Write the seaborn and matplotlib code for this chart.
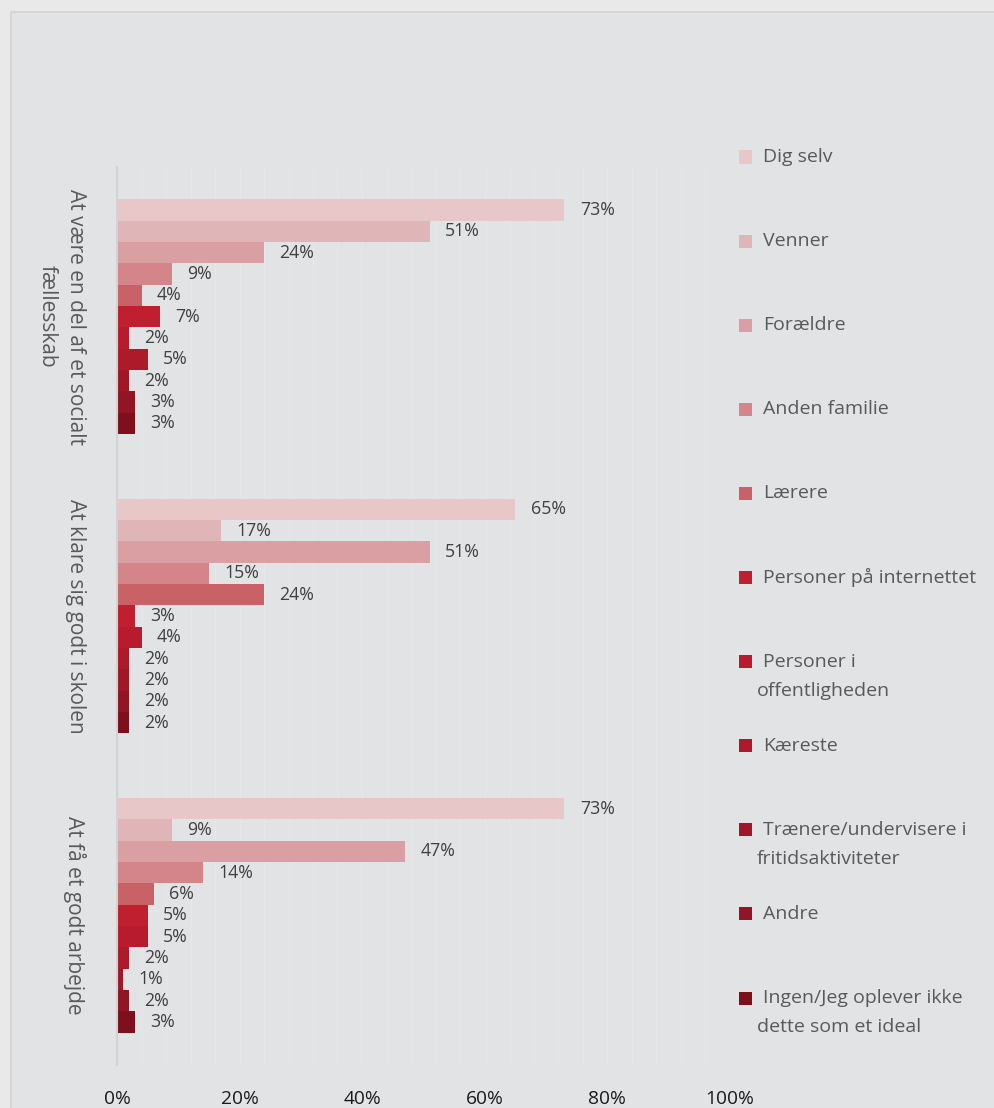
import numpy as np
import pandas as pd
import matplotlib
matplotlib.use("Agg")
import matplotlib.pyplot as plt
from matplotlib.patches import Rectangle
import seaborn as sns

# ---- data -----------------------------------------------------------------
groups = [
    "At være en del af et socialt\nfællesskab",
    "At klare sig godt i skolen",
    "At få et godt arbejde",
]
sources = [
    "Dig selv",
    "Venner",
    "Forældre",
    "Anden familie",
    "Lærere",
    "Personer på internettet",
    "Personer i offentligheden",
    "Kæreste",
    "Trænere/undervisere i fritidsaktiviteter",
    "Andre",
    "Ingen/Jeg oplever ikke dette som et ideal",
]
# legend text, split over lines as laid out in the key
legend_lines = [
    ["Dig selv"],
    ["Venner"],
    ["Forældre"],
    ["Anden familie"],
    ["Lærere"],
    ["Personer på internettet"],
    ["Personer i", "offentligheden"],
    ["Kæreste"],
    ["Trænere/undervisere i", "fritidsaktiviteter"],
    ["Andre"],
    ["Ingen/Jeg oplever ikke", "dette som et ideal"],
]
social = [73, 51, 24, 9, 4, 7, 2, 5, 2, 3, 3]
school = [65, 17, 51, 15, 24, 3, 4, 2, 2, 2, 2]
work = [73, 9, 47, 14, 6, 5, 5, 2, 1, 2, 3]
x_ticks = [0, 20, 40, 60, 80, 100]

palette = [
    "#e8c7c9", "#e0b5b7", "#d99fa2", "#d3858a", "#c86266",
    "#c01f30", "#b81b2d", "#ad1a2a", "#a01828", "#921526", "#7e0f1c",
]

df = pd.DataFrame({
    "group": np.repeat(groups, len(sources)),
    "source": sources * len(groups),
    "value": social + school + work,
})

# ---- style ----------------------------------------------------------------
sns.set_style("white")
plt.rcParams["font.family"] = ["Open Sans", "DejaVu Sans"]

W, H = 995, 1108
fig = plt.figure(figsize=(W / 100, H / 100), dpi=100, facecolor="#e9e9e9")


def fx(x):
    return x / W


def fy(y):
    return 1 - y / H


# framed panel behind the chart
fig.add_artist(Rectangle((fx(11), -0.1), 1.2, fy(12) + 0.1,
                         transform=fig.transFigure, facecolor="#e2e3e5",
                         edgecolor="#d6d6d8", linewidth=1.5, zorder=0))

ax = fig.add_axes([fx(117), fy(1065), fx(730) - fx(117), fy(167) - fy(1065)])
ax.set_facecolor("none")

sns.barplot(data=df, y="group", x="value", hue="source", hue_order=sources,
            order=groups, palette=palette, orient="h", width=0.785,
            saturation=1, errorbar=None, legend=False, linewidth=0, ax=ax)

for cont in ax.containers:
    ax.bar_label(cont, labels=[f"{int(round(v))}%" for v in cont.datavalues],
                 padding=11, fontsize=12.8, color="#404040")

ax.set_xlim(0, 100)
ax.set_ylim(2.5, -0.5)
ax.set_xticks(x_ticks)
ax.set_xticklabels([f"{t}%" for t in x_ticks], fontsize=13.8, color="#1a1a1a")
ax.set_xticks(np.arange(0, 101, 4), minor=True)
ax.grid(which="both", axis="x", color="#e6e7e9", linewidth=1.0, zorder=0)
ax.set_axisbelow(True)
ax.tick_params(axis="x", which="both", length=0, pad=18)
ax.tick_params(axis="y", length=0, pad=22)
for lab in ax.get_yticklabels():
    lab.set_rotation(270)
    lab.set_va("center")
    lab.set_ha("right")
    lab.set_multialignment("center")
    lab.set_linespacing(1.45)
    lab.set_fontsize(15)
    lab.set_color("#595959")
ax.set_xlabel("")
ax.set_ylabel("")
for side in ["top", "right", "bottom"]:
    ax.spines[side].set_visible(False)
ax.spines["left"].set_color("#d2d3d5")
ax.spines["left"].set_linewidth(1.5)

# ---- key on the right -----------------------------------------------------
row0, step = 157, 84.1
for i, (lines, col) in enumerate(zip(legend_lines, palette)):
    yc = row0 + i * step
    fig.add_artist(Rectangle((fx(739), fy(yc + 6.5)), 13 / W, 13 / H,
                             transform=fig.transFigure, facecolor=col,
                             edgecolor="none"))
    fig.text(fx(763), fy(yc), lines[0], fontsize=14, color="#595959",
             va="center", ha="left")
    if len(lines) > 1:
        fig.text(fx(757), fy(yc + 29), lines[1], fontsize=14,
                 color="#595959", va="center", ha="left")

fig.savefig("out.png", dpi=100, facecolor=fig.get_facecolor())
